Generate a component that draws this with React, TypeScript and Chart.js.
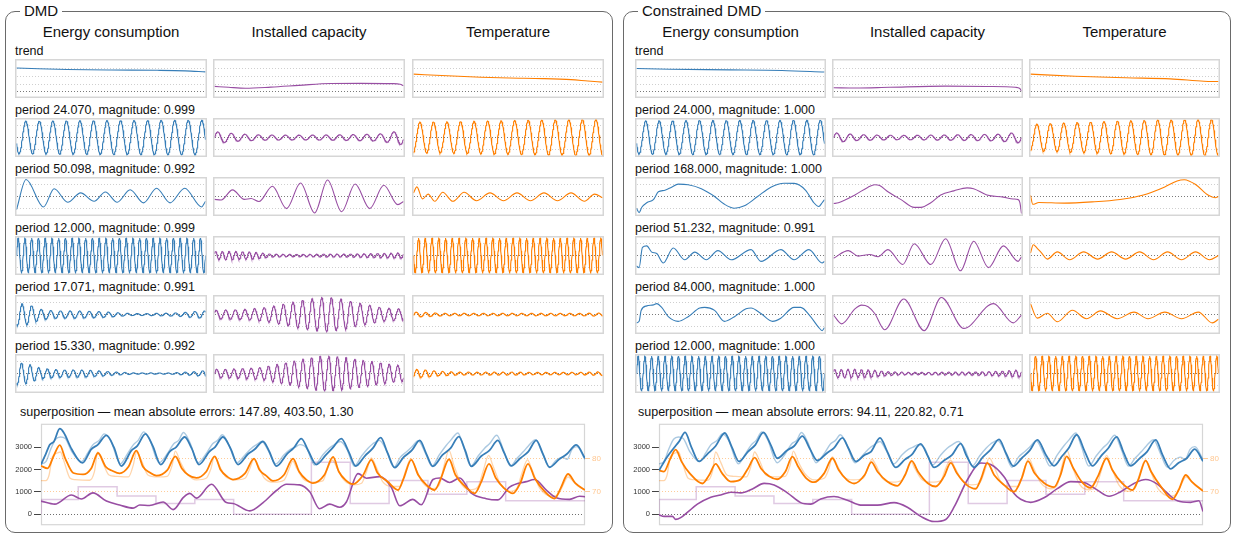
import React, { useEffect, useRef } from "react";
import { Chart, registerables } from "chart.js";

Chart.register(...registerables);

type Pt = [number, number];

const HOURS = 336;
const FONT = '"Liberation Sans", Arial, Helvetica, sans-serif';
const BLUE = "#377eb8";
const PURPLE = "#984ea3";
const ORANGE = "#ff7f00";
const SERIES_COLORS = [BLUE, PURPLE, ORANGE];

const variables = ["Energy consumption", "Installed capacity", "Temperature"];

// eigenvalues of the displayed modes
const dmdPeriods = [24.07, 50.098, 12.0, 17.071, 15.33];
const dmdMagnitudes = [0.999, 0.992, 0.999, 0.991, 0.992];
const cdmdPeriods = [24.0, 168.0, 51.232, 84.0, 12.0];
const cdmdMagnitudes = [1.0, 1.0, 0.991, 1.0, 1.0];
const dmdErrors = [147.89, 403.5, 1.3];
const cdmdErrors = [94.11, 220.82, 0.71];

// mini chart scales
const modeRange = [-1.5, 1.5];
const modeGrid = [-1, 0, 1];
const trendRange = [-0.6, 4.1];
const trendGrid = [0, 1, 2, 3];

// superposition axes
const energyRange = [-490, 4040];
const energyTicks = [0, 1000, 2000, 3000];
const tempRange = [59.7, 90.6];
const tempTicks = [70, 80];

// ---------- DMD: trend ----------
const dmdTrendEnergy: Pt[] = [[0, 3.12], [40, 3.02], [90, 2.93], [168, 2.86], [250, 2.82], [300, 2.75], [336, 2.62]];
const dmdTrendCapacity: Pt[] = [[0, 0.72], [25, 0.6], [55, 0.48], [100, 0.62], [150, 0.85], [206, 1.1], [260, 1.12], [316, 1.08], [330, 1.0], [336, 0.8]];
const dmdTrendTemperature: Pt[] = [[0, 2.32], [60, 2.1], [120, 1.92], [170, 1.82], [230, 1.74], [280, 1.6], [310, 1.42], [336, 1.28]];

// ---------- DMD: oscillating modes (first peak hour + amplitude envelope) ----------
const dmdP24Energy = { peak: 16.6, env: [1.35, 1.38, 1.4, 1.42, 1.43, 1.44, 1.45] };
const dmdP24Capacity = { peak: 6, env: [0.5, 0.3, 0.22, 0.2, 0.2, 0.22, 0.25, 0.3, 0.6] };
const dmdP24Temperature = { peak: 11.5, env: [1.28, 1.3, 1.35, 1.4, 1.45, 1.48, 1.5] };

const dmdP50Energy: Pt[] = [[0, -1.1], [17, 1.42], [48, -0.87], [67, 0.64], [91, -0.48], [114, 0.3], [138, -0.4], [158, 0.38], [179, -0.48], [202, 0.56], [226, -0.53], [249, 0.69], [273, -0.53], [299, 0.69], [329, -0.87], [336, -0.4]];
const dmdP50Capacity: Pt[] = [[0, -0.24], [12, -0.29], [32, 0.55], [53, -0.24], [65, -0.17], [79, -0.42], [103, 0.86], [128, -1.01], [153, 1.12], [178, -1.37], [201, 1.37], [226, -1.27], [250, 1.04], [276, -1.01], [301, 0.94], [326, -0.68], [336, -0.42]];
const dmdP50Temperature: Pt[] = [[0, 0.3], [6, 0.8], [16, -0.2], [26, 0.2], [38, -0.4], [52, 0.35], [70, -0.4], [90, 0.35], [112, -0.35], [136, 0.3], [160, -0.35], [184, 0.3], [208, -0.35], [232, 0.3], [256, -0.35], [280, 0.3], [304, -0.4], [322, 0.2], [336, -0.1]];

const dmdP12Energy = { peak: 3, env: [1.45, 1.45] };
const dmdP12Capacity = { peak: 2, env: [0.35, 0.35, 0.3, 0.12, 0.1, 0.1, 0.12, 0.12, 0.15, 0.18, 0.22] };
const dmdP12Temperature = { peak: 9, env: [1.45, 1.45] };

const dmdP17Energy = { peak: 10, env: [0.95, 0.85, 0.45, 0.32, 0.3, 0.3, 0.28, 0.25, 0.2, 0.12, 0.08, 0.08, 0.1, 0.12, 0.15, 0.25, 0.3] };
const dmdP17Capacity = { peak: 3, env: [0.35, 0.38, 0.4, 0.45, 0.55, 0.7, 0.9, 1.1, 1.3, 1.42, 1.4, 1.25, 1.0, 0.8, 0.6, 0.5, 0.45] };
const dmdP17Temperature = { peak: 5, env: [0.2, 0.18, 0.12, 0.1, 0.1, 0.1, 0.1, 0.1, 0.1, 0.1, 0.1, 0.1, 0.1, 0.1, 0.1, 0.12, 0.12] };

const dmdP15Energy = { peak: 9, env: [0.95, 0.8, 0.45, 0.35, 0.3, 0.3, 0.28, 0.22, 0.15, 0.1, 0.05, 0.05, 0.05, 0.05, 0.1, 0.15, 0.25] };
const dmdP15Capacity = { peak: 4, env: [0.35, 0.35, 0.4, 0.45, 0.5, 0.7, 0.9, 1.1, 1.3, 1.45, 1.45, 1.35, 1.2, 1.05, 0.9, 0.75, 0.65] };
const dmdP15Temperature = { peak: 6, env: [0.35, 0.3, 0.2, 0.15, 0.12, 0.12, 0.12, 0.12, 0.12, 0.12, 0.1, 0.1, 0.1, 0.1, 0.1, 0.12, 0.15] };

// ---------- Constrained DMD: trend ----------
const cdmdTrendEnergy: Pt[] = [[0, 3.05], [60, 2.95], [168, 2.88], [260, 2.8], [336, 2.6]];
const cdmdTrendCapacity: Pt[] = [[0, 0.55], [40, 0.5], [100, 0.6], [200, 0.75], [280, 0.7], [325, 0.6], [333, 0.45], [336, 0.1]];
const cdmdTrendTemperature: Pt[] = [[0, 2.32], [80, 2.05], [170, 1.85], [250, 1.7], [310, 1.4], [336, 1.35]];

// ---------- Constrained DMD: modes ----------
const cdmdP24Energy = { peak: 16.6, env: [1.38, 1.4, 1.42, 1.42, 1.43, 1.44, 1.45] };
const cdmdP24Capacity = { peak: 6, env: [0.4, 0.25, 0.2, 0.18, 0.2, 0.22, 0.25, 0.28, 0.45] };
const cdmdP24Temperature = { peak: 11.5, env: [1.1, 1.2, 1.3, 1.38, 1.45, 1.48, 1.5] };

const cdmdP168Energy: Pt[] = [[0, -0.98], [4.7, -1.34], [9.5, -0.9], [18.3, -0.52], [30.2, -0.26], [39, 0.39], [50.9, 0.52], [62.7, 0.78], [74.5, 1.03], [92.3, 0.98], [115.9, 0.65], [139.6, 0], [157.3, -0.65], [175.1, -0.98], [192.8, -0.78], [216.5, 0], [240.1, 0.78], [263.8, 1.11], [281.6, 1.09], [302.3, 0.52], [317, -0.52], [325.9, -0.83], [331.8, -0.52], [336, -0.26]];
const cdmdP168Capacity: Pt[] = [[0, -0.59], [8.8, -0.52], [38.3, 0.13], [61.9, 0.78], [73.7, 0.98], [82.5, 0.91], [97.3, 0.39], [120.8, -0.26], [144.4, -0.91], [156.2, -0.91], [173.9, -0.52], [191.6, 0.13], [215.2, 0.47], [238.7, 0.72], [250.5, 0.65], [274.1, 0.13], [303.6, -0.05], [321.3, -0.21], [330.1, -0.26], [333.1, -0.52], [336, -1.42]];
const cdmdP168Temperature: Pt[] = [[0, 0.1], [4, -0.65], [15, -0.5], [60, -0.55], [110, -0.45], [160, -0.25], [200, 0.1], [240, 0.8], [262, 1.3], [275, 1.4], [295, 1.0], [318, 0.1], [330, -0.1], [336, 0]];

const cdmdP51Energy: Pt[] = [[0, -0.88], [4.7, -1.01], [10.6, 0.67], [18.3, 0.8], [27.2, 0.28], [36.1, 0.16], [47.9, -0.62], [65.7, 0.62], [86.4, -0.36], [104.1, 0.28], [124.8, -0.36], [145.5, 0.41], [169.2, -0.36], [204.7, 0.49], [222.4, -0.49], [257.9, 0.49], [281.6, -0.36], [308.2, 0.49], [331.8, -0.62], [336, -0.49]];
const cdmdP51Capacity: Pt[] = [[0, -0.23], [26.5, 0.41], [44.2, -0.05], [64.8, 0.08], [79.6, -0.1], [97.3, 0.49], [123.8, -0.75], [144.4, 0.98], [173.9, -0.75], [200.4, 1.4], [227, -1.27], [250.5, 1.19], [277.1, -1.01], [303.6, 0.8], [330.1, -0.49], [336, -0.1]];
const cdmdP51Temperature: Pt[] = [[0, 0.2], [5, 0.9], [12, 0.6], [20, 0.2], [30, -0.3], [48, 0.3], [70, -0.35], [95, 0.3], [120, -0.3], [145, 0.3], [170, -0.3], [195, 0.3], [220, -0.35], [245, 0.3], [270, -0.35], [295, 0.3], [320, -0.35], [336, 0]];

const cdmdP84Energy: Pt[] = [[0, -0.7], [4.7, -0.57], [8.3, 0.34], [18.3, 0.72], [30.2, 0.8], [36.1, 0.91], [45, 0.59], [56.8, -0.18], [74.5, -0.57], [92.3, -0.18], [113, 0.54], [121.9, 0.59], [139.6, 0.34], [157.3, -0.57], [175.1, -0.18], [195.8, 0.47], [204.7, 0.54], [222.4, 0.08], [243.1, -0.57], [257.9, -0.31], [281.6, 0.59], [293.4, 0.59], [311.1, -0.18], [325.9, -1.09], [331.8, -1.34], [336, -1.09]];
const cdmdP84Capacity: Pt[] = [[0, -0.05], [14.7, -0.78], [38.3, 0.47], [50.1, 0.78], [61.9, 0.65], [73.7, 0.08], [91.4, -1.27], [125.6, 1.29], [162.1, -1.34], [192.8, 1.42], [232.9, -1.16], [285.9, 0.91], [321.3, -0.7], [336, -0.05]];
const cdmdP84Temperature: Pt[] = [[0, 0.9], [12, -0.3], [30, 0.1], [48, -0.6], [75, 0.35], [100, -0.35], [125, 0.3], [155, -0.35], [185, 0.2], [210, -0.35], [240, 0.2], [270, -0.35], [300, 0.2], [325, -0.7], [336, -0.4]];

const cdmdP12Energy = { peak: 3, env: [1.45, 1.45] };
const cdmdP12Capacity = { peak: 2, env: [0.35, 0.35, 0.3, 0.15, 0.1, 0.1, 0.12, 0.12, 0.15, 0.2, 0.3] };
const cdmdP12Temperature = { peak: 9, env: [1.45, 1.45] };

// ---------- observed series (shared by both reconstructions) ----------
const observedEnergy: Pt[] = [
  [0, 2250], [3, 2350], [6, 2900], [9, 3350], [12, 3450], [15, 3380], [19, 2800], [25, 2350],
  [29, 2750], [32, 3100], [36, 3300], [39, 3590], [43, 3300], [49, 2250],
  [53, 2650], [57, 3100], [60, 3300], [63.5, 3680], [67, 3350], [73, 2300],
  [78, 2700], [82, 3150], [85, 3300], [88, 3650], [92, 3200], [97, 2300],
  [102, 2700], [106, 3150], [109, 3300], [112, 3550], [116, 3100], [121, 2300],
  [126, 2650], [130, 2950], [133, 3100], [136.5, 3250], [140, 2900], [145, 2250],
  [150, 2650], [154, 2900], [157, 3000], [160, 3110], [164, 2950], [169, 2200],
  [174, 2650], [178, 2950], [181, 3100], [185, 3250], [189, 2900], [193.5, 2150],
  [198, 2600], [202, 2950], [205, 3150], [209, 3300], [213, 2900], [218, 2100],
  [222, 2550], [226, 2800], [229, 3000], [233, 3280], [237, 2800], [241.5, 2150],
  [246, 2650], [250, 3050], [253, 3300], [257.5, 3630], [261, 3000], [265.5, 2150],
  [270, 2600], [274, 2950], [277, 3150], [281.5, 3530], [285.5, 2900], [290, 2150],
  [294, 2500], [298, 2800], [301, 3050], [305.5, 3330], [309.5, 2750], [314, 2100],
  [318, 2400], [322, 2550], [325, 2450], [328, 2900], [331, 3020], [336, 2450],
];
const observedTemperature: Pt[] = [
  [0, 73.3], [3, 73.3], [5, 75], [7, 80.5], [10, 81.7], [12, 82], [14, 79.5], [18, 74], [21, 73.6], [30, 73.4],
  [33, 76], [35, 82], [38, 79], [42, 75], [46, 74.6], [54, 74.4], [57, 78], [59, 82], [62, 79.5], [66, 75],
  [72, 74.4], [78, 74.6], [81, 78], [83, 82.3], [86, 79], [90, 75.5], [96, 73.5], [102, 74], [105, 77],
  [107, 80.5], [110, 78], [114, 74.5], [120, 73.5], [126, 74], [129, 77], [131.5, 79.8], [134, 78], [138, 74],
  [144, 72.8], [150, 73.4], [153, 76.5], [155.5, 79.2], [158, 77], [162, 73.8], [168, 72.8], [174, 73.2],
  [177, 77], [180, 79.5], [183, 77], [187, 73.5], [193, 72], [198, 72.5], [201, 76], [204, 80.2], [207, 77.5],
  [211, 73], [217, 71.5], [222, 71.5], [225, 76], [228.5, 80], [231, 77.5], [236, 72.5], [242, 70.8], [246, 72],
  [249, 78], [252, 82.5], [255, 78], [260, 72], [266, 70.5], [270, 71.5], [273, 76], [276.5, 81], [279, 78],
  [284, 72], [290, 70], [294, 71], [297, 75.5], [300.5, 79.6], [303, 77], [308, 71], [316, 68.5], [320, 69.5],
  [323, 72.5], [325.5, 74.4], [328, 73.5], [332, 71.5], [336, 70.5],
];
// daily installed capacity and the hours at which each value starts
const capacityStartHours = [0, 23, 47, 71, 95, 119, 143, 167, 191, 215, 239, 263, 287, 311, 336];
const capacityDaily = [0, 655, 1230, 820, 480, 655, 0, 0, 2320, 480, 1510, 898, 1456, 600, 600];

// ---------- DMD superposition ----------
const dmdSumEnergy: Pt[] = [
  [0, 2220], [3, 2700], [5.4, 3100], [8, 3250], [11.6, 3820], [14, 3650], [19, 2900], [25.6, 2290],
  [31, 2900], [35, 3100], [40.4, 3520], [45, 3000], [49.6, 2150],
  [55.8, 2840], [59.5, 3050], [64.5, 3590], [69, 3050], [74, 2220],
  [79.5, 2800], [83.5, 3000], [88.8, 3450], [93, 2950], [97.6, 2220],
  [104, 2800], [107.5, 3000], [112.4, 3450], [117, 2950], [121.7, 2220],
  [128, 2700], [132, 2900], [137.1, 3250], [141, 2800], [145.4, 2150],
  [152, 2700], [156, 2950], [160.8, 3380], [165, 2850], [170, 2220],
  [176, 2650], [180, 2950], [185.5, 3380], [190, 2800], [194.4, 2150],
  [200, 2600], [205, 2950], [209.8, 3420], [214, 2750], [218.5, 2080],
  [224, 2550], [229, 2850], [233.9, 3300], [238, 2700], [242, 2140],
  [248, 2650], [253, 2950], [258.1, 3470], [262, 2850], [265.8, 2140],
  [272, 2600], [277, 2850], [282.2, 3300], [286, 2750], [290.5, 2160],
  [296, 2500], [301, 2800], [305.9, 3300], [310, 2700], [314.1, 2100],
  [320, 2450], [325, 2700], [330.6, 3100], [336, 2500],
];
const dmdSumTemperature: Pt[] = [
  [0, 77.8], [4, 77], [8, 81], [11.6, 84.1], [15, 80], [20, 75.6], [26, 75.2], [31, 77], [35.2, 81.7], [40, 77.5],
  [44, 76.3], [48.6, 75.5], [54, 77.5], [58.9, 82.4], [63, 77.5], [67, 75.8], [71.3, 74.8], [78, 76.5], [83, 80.7],
  [87, 77], [91, 75], [96, 74.1], [102, 76], [107.3, 80.7], [111, 76.5], [115, 74.5], [118.6, 73.6], [126, 75.5],
  [131.6, 80], [135, 76.5], [139, 74.8], [143.3, 73.2], [150, 75], [155.7, 80], [159.5, 76], [164, 73.5], [168, 72.5],
  [175, 75], [180.4, 80.5], [184, 76], [188, 73.5], [192.7, 72.2], [199, 75], [204, 79.6], [208, 75.5], [214, 73],
  [220.5, 70.4], [224, 74], [228.7, 79.6], [233, 75], [238, 72], [243.1, 70.4], [247, 74], [252, 79.8], [256, 75],
  [262, 71.5], [267.8, 69.4], [272, 73], [276.7, 78.4], [281, 74], [286, 71], [291.5, 69.4], [296, 72.5], [300.8, 78.4],
  [305, 74], [311, 70], [317.2, 67.8], [321, 71], [325.5, 75.3], [330, 72.5], [336, 70.4],
];
const dmdSumCapacity: Pt[] = [
  [0, 587], [8.5, 450], [18.8, 860], [24.9, 680], [32.1, 955], [40.4, 587], [48.6, 410], [56.9, 273], [61, 410],
  [67, 390], [75.4, 545], [81.6, 205], [88, 750], [91.9, 930], [96, 720], [105.3, 1340], [114.5, 520], [118.6, 480],
  [128.9, 150], [137.2, 520], [145.4, 1060], [151.6, 1340], [159.8, 1310], [166, 1000], [172.1, 245], [178.3, 450],
  [184.5, 314], [188.6, 545], [195.8, 1815], [201, 1610], [209.2, 1680], [216.4, 1200], [221.6, 380], [229.7, 665],
  [234.9, 421], [242.1, 1551], [246.2, 1620], [252.4, 1415], [258.6, 1620], [265.8, 939], [275, 694], [282.2, 640],
  [289.4, 1212], [299.7, 1456], [304.9, 1551], [312.1, 1075], [318.3, 735], [326.5, 665], [332.7, 803], [336, 780],
];

// ---------- Constrained DMD superposition ----------
const cdmdSumEnergy: Pt[] = [
  [0, 1950], [5, 2560], [9.3, 2970], [12.4, 3250], [16.1, 3656], [20, 3000], [24.7, 2360],
  [30, 2700], [35, 3050], [40.6, 3630], [45, 3000], [49.4, 2360],
  [55, 2800], [59.5, 3100], [64.5, 3656], [69, 3100], [73.1, 2500],
  [79, 2850], [83.5, 3050], [88.6, 3490], [93, 2950], [97.8, 2400],
  [104, 2750], [108, 2950], [113.3, 3410], [117, 2950], [121.5, 2360],
  [127, 2650], [131, 2800], [136.5, 3410], [141, 2800], [146.2, 2090],
  [152, 2450], [156, 2650], [161.6, 3140], [166, 2600], [169.9, 2090],
  [176, 2400], [181, 2650], [186.3, 3150], [190, 2600], [194.6, 2090],
  [200, 2550], [205, 2900], [210, 3340], [214.5, 2700], [218.9, 2150],
  [224, 2500], [229, 2850], [233.7, 3320], [239, 2650], [244, 2160],
  [249, 2600], [253, 2950], [258, 3550], [263, 2800], [267.7, 2160],
  [273, 2600], [277.5, 2950], [282.7, 3457], [287, 2750], [291.3, 2160],
  [297, 2500], [301.5, 2800], [306.8, 3320], [311, 2650], [316, 2030],
  [321, 2300], [326, 2500], [330.9, 2910], [336, 2370],
];
const cdmdSumTemperature: Pt[] = [
  [0, 76.4], [3, 76], [7, 80], [10.3, 82.7], [14, 79], [19, 75.5], [26.8, 72.4], [31, 75], [35, 78.4], [39, 75.5],
  [44.3, 73], [50, 73.5], [55, 77], [59.1, 80.3], [63, 77], [68, 74.6], [73, 73.7], [78, 76], [82.4, 80.6], [86, 77.5],
  [91, 74], [95.8, 72.8], [102, 75.5], [107.1, 80.1], [111, 76.5], [116, 73.5], [120.5, 72.4], [127, 75], [131.2, 78.9],
  [135, 76], [141, 73], [147.2, 71.7], [152, 75], [156.1, 79.3], [160, 76], [166, 72.5], [170.9, 71.5], [176, 74.5],
  [180.2, 78.7], [184, 75.5], [190, 72], [195.6, 70.8], [199, 74], [202.8, 78.7], [207, 75], [213, 72], [219.3, 69.9],
  [224, 74], [227.9, 79.2], [232, 75.5], [238, 72.5], [244, 71.3], [248, 75], [251.8, 80.7], [256, 77], [261, 73],
  [266.6, 71.1], [271, 74.5], [276.5, 80.1], [280, 76.5], [286, 72.5], [292.4, 70.4], [296, 73.5], [300.6, 79.4],
  [304, 76], [310, 71.5], [317.1, 67.6], [321, 70.5], [325.3, 75], [329, 73], [336, 70.1],
];
const cdmdSumCapacity: Pt[] = [
  [0, -27], [3.1, -95], [8.3, -95], [10.3, -232], [13.4, -150], [17.5, 82], [23.7, 450], [32, 764], [38.1, 860],
  [44.3, 982], [50.5, 955], [57.7, 1132], [64.9, 1378], [71.1, 1310], [79.3, 955], [87.5, 518], [93.7, 450],
  [99.9, 682], [108.1, 791], [116.3, 627], [124.6, 409], [134.9, 409], [145.2, 518], [153.4, 314], [161.6, -95],
  [169.9, -327], [177.1, -232], [182.2, 314], [190.5, 1542], [198.7, 2292], [204.9, 2224], [213.1, 1678],
  [219.3, 928], [223.4, 667], [229.6, 530], [237.8, 735], [246, 1143], [254.3, 1456], [262.5, 1415], [270.8, 1075],
  [278, 803], [285.2, 1007], [293.4, 1374], [300.6, 1551], [307.8, 1347], [314, 939], [320.2, 599], [328.4, 530],
  [333.5, 599], [336, 122],
];

// ---------- helpers ----------
type Wave = { peak: number; env: number[] };

function modeWave(period: number, w: Wave): Pt[] {
  const out: Pt[] = [];
  for (let t = 0; t <= HOURS; t += 0.5) {
    const u = (t / HOURS) * (w.env.length - 1);
    const i = Math.min(w.env.length - 2, Math.floor(u));
    const a = w.env[i] + (w.env[i + 1] - w.env[i]) * (u - i);
    out.push([t, a * Math.cos((2 * Math.PI * (t - w.peak)) / period)]);
  }
  return out;
}

function stepPoints(hours: number[], values: number[]): Pt[] {
  return hours.map((h, i) => [h, values[i]] as Pt);
}

const toXY = (pts: Pt[]) => pts.map(([x, y]) => ({ x, y }));

const framePlugin = {
  id: "frame",
  beforeDatasetsDraw(chart: any, _args: any, opts: any) {
    const { ctx } = chart;
    const a = opts.area ? chart.chartArea : null;
    ctx.save();
    ctx.strokeStyle = "#d6d6d6";
    ctx.lineWidth = opts.width || 1.5;
    if (a) {
      ctx.strokeRect(a.left + 0.5, a.top + 0.5, a.right - a.left - 1, a.bottom - a.top - 1);
    } else {
      const lw = ctx.lineWidth;
      ctx.strokeRect(lw / 2, lw / 2, chart.width - lw, chart.height - lw);
    }
    ctx.restore();
  },
};

type MiniProps = {
  left: number;
  top: number;
  width: number;
  height: number;
  color: string;
  points: Pt[];
  smooth: boolean;
  trend: boolean;
};

function MiniChart({ left, top, width, height, color, points, smooth, trend }: MiniProps) {
  const ref = useRef<HTMLCanvasElement>(null);
  useEffect(() => {
    const range = trend ? trendRange : modeRange;
    const grid = trend ? trendGrid : modeGrid;
    const chart = new Chart(ref.current as HTMLCanvasElement, {
      type: "line",
      data: {
        datasets: [
          {
            data: toXY(points) as any,
            borderColor: color,
            borderWidth: 1.1,
            pointRadius: 0,
            fill: false,
            tension: 0,
            cubicInterpolationMode: smooth ? "monotone" : "default",
          },
        ],
      },
      options: {
        animation: false,
        responsive: false,
        events: [],
        layout: { padding: 1.5 },
        plugins: { legend: { display: false }, tooltip: { enabled: false }, frame: {} } as any,
        scales: {
          x: { type: "linear", min: 0, max: HOURS, display: false },
          y: {
            type: "linear",
            min: range[0],
            max: range[1],
            afterBuildTicks: (s: any) => {
              s.ticks = grid.map((v) => ({ value: v }));
            },
            ticks: { display: false },
            grid: {
              drawTicks: false,
              lineWidth: 1,
              color: (c: any) => (c.tick && c.tick.value === 0 ? "#7a7a7a" : "#cfcfcf"),
            },
            border: { display: false, dash: [1, 2] },
          },
        },
      },
      plugins: [framePlugin],
    });
    return () => chart.destroy();
  }, []);
  return (
    <canvas
      ref={ref}
      width={width}
      height={height}
      style={{ position: "absolute", left, top, width, height }}
    />
  );
}

type SumProps = {
  left: number;
  energy: Pt[];
  temperature: Pt[];
  capacity: Pt[];
};

function SuperpositionChart({ left, energy, temperature, capacity }: SumProps) {
  const ref = useRef<HTMLCanvasElement>(null);
  useEffect(() => {
    const chart = new Chart(ref.current as HTMLCanvasElement, {
      type: "line",
      data: {
        datasets: [
          { data: toXY(energy) as any, yAxisID: "y", borderColor: BLUE, borderWidth: 1.8, pointRadius: 0, cubicInterpolationMode: "monotone" },
          { data: toXY(temperature) as any, yAxisID: "y2", borderColor: ORANGE, borderWidth: 1.8, pointRadius: 0, cubicInterpolationMode: "monotone" },
          { data: toXY(capacity) as any, yAxisID: "y", borderColor: PURPLE, borderWidth: 1.6, pointRadius: 0, cubicInterpolationMode: "monotone" },
          { data: toXY(observedEnergy) as any, yAxisID: "y", borderColor: "rgba(55,126,184,0.42)", borderWidth: 1.4, pointRadius: 0, cubicInterpolationMode: "monotone" },
          { data: toXY(observedTemperature) as any, yAxisID: "y2", borderColor: "rgba(255,127,0,0.33)", borderWidth: 1.3, pointRadius: 0, cubicInterpolationMode: "monotone" },
          { data: toXY(stepPoints(capacityStartHours, capacityDaily)) as any, yAxisID: "y", borderColor: "rgba(152,78,163,0.3)", borderWidth: 1.5, pointRadius: 0, stepped: "after" },
        ],
      },
      options: {
        animation: false,
        responsive: false,
        events: [],
        layout: { padding: { top: 2, bottom: 2, left: 0, right: 0 } },
        plugins: { legend: { display: false }, tooltip: { enabled: false }, frame: { area: true, width: 1.2 } } as any,
        scales: {
          x: { type: "linear", min: 0, max: HOURS, display: false },
          y: {
            type: "linear",
            position: "left",
            min: energyRange[0],
            max: energyRange[1],
            afterBuildTicks: (s: any) => {
              s.ticks = energyTicks.map((v) => ({ value: v }));
            },
            afterFit: (s: any) => {
              s.width = 33;
            },
            ticks: {
              font: { family: FONT, size: 7.5 },
              color: "#333",
              padding: 2,
              callback: (v: any) => String(v),
            },
            grid: {
              lineWidth: 1,
              color: (c: any) => (c.tick && c.tick.value === 0 ? "#6e6e6e" : "rgba(0,0,0,0)"),
              tickColor: "#444",
              tickLength: 7,
            },
            border: { display: false, dash: [1, 2] },
          },
          y2: {
            type: "linear",
            position: "right",
            min: tempRange[0],
            max: tempRange[1],
            afterBuildTicks: (s: any) => {
              s.ticks = tempTicks.map((v) => ({ value: v }));
            },
            afterFit: (s: any) => {
              s.width = 25;
            },
            ticks: {
              font: { family: FONT, size: 8 },
              color: "rgba(255,127,0,0.45)",
              padding: 2,
              callback: (v: any) => String(v),
            },
            grid: {
              lineWidth: 1,
              color: "rgba(255,127,0,0.4)",
              tickColor: "rgba(255,127,0,0.4)",
              tickLength: 5,
            },
            border: { display: false, dash: [1, 2] },
          },
        },
      },
      plugins: [framePlugin],
    });
    return () => chart.destroy();
  }, []);
  return (
    <canvas
      ref={ref}
      width={602}
      height={115}
      style={{ position: "absolute", left, top: 417, width: 602, height: 115 }}
    />
  );
}

type PanelDef = {
  title: string;
  boxLeft: number;
  colLefts: number[];
  colWidth: number;
  labels: string[];
  rows: Pt[][][];
  smooth: boolean[];
  sumLabel: string;
  sum: { energy: Pt[]; temperature: Pt[]; capacity: Pt[] };
};

const ROW_TOPS = [59, 118, 177, 236, 295, 354];
const ROW_H = 39;

function modeLabel(p: number, m: number) {
  return `period ${p.toFixed(3)}, magnitude: ${m.toFixed(3)}`;
}

function buildPanels(): PanelDef[] {
  const dmdRows: Pt[][][] = [
    [dmdTrendEnergy, dmdTrendCapacity, dmdTrendTemperature],
    [modeWave(dmdPeriods[0], dmdP24Energy), modeWave(dmdPeriods[0], dmdP24Capacity), modeWave(dmdPeriods[0], dmdP24Temperature)],
    [dmdP50Energy, dmdP50Capacity, dmdP50Temperature],
    [modeWave(dmdPeriods[2], dmdP12Energy), modeWave(dmdPeriods[2], dmdP12Capacity), modeWave(dmdPeriods[2], dmdP12Temperature)],
    [modeWave(dmdPeriods[3], dmdP17Energy), modeWave(dmdPeriods[3], dmdP17Capacity), modeWave(dmdPeriods[3], dmdP17Temperature)],
    [modeWave(dmdPeriods[4], dmdP15Energy), modeWave(dmdPeriods[4], dmdP15Capacity), modeWave(dmdPeriods[4], dmdP15Temperature)],
  ];
  const cdmdRows: Pt[][][] = [
    [cdmdTrendEnergy, cdmdTrendCapacity, cdmdTrendTemperature],
    [modeWave(cdmdPeriods[0], cdmdP24Energy), modeWave(cdmdPeriods[0], cdmdP24Capacity), modeWave(cdmdPeriods[0], cdmdP24Temperature)],
    [cdmdP168Energy, cdmdP168Capacity, cdmdP168Temperature],
    [cdmdP51Energy, cdmdP51Capacity, cdmdP51Temperature],
    [cdmdP84Energy, cdmdP84Capacity, cdmdP84Temperature],
    [modeWave(cdmdPeriods[4], cdmdP12Energy), modeWave(cdmdPeriods[4], cdmdP12Capacity), modeWave(cdmdPeriods[4], cdmdP12Temperature)],
  ];
  return [
    {
      title: "DMD",
      boxLeft: 5,
      colLefts: [15, 213, 412],
      colWidth: 192,
      labels: ["trend", ...dmdPeriods.map((p, i) => modeLabel(p, dmdMagnitudes[i]))],
      rows: dmdRows,
      smooth: [true, false, true, false, false, false],
      sumLabel: `superposition \u2014 mean absolute errors: ${dmdErrors.map((e) => e.toFixed(2)).join(", ")}`,
      sum: { energy: dmdSumEnergy, temperature: dmdSumTemperature, capacity: dmdSumCapacity },
    },
    {
      title: "Constrained DMD",
      boxLeft: 623,
      colLefts: [635, 832, 1029],
      colWidth: 191,
      labels: ["trend", ...cdmdPeriods.map((p, i) => modeLabel(p, cdmdMagnitudes[i]))],
      rows: cdmdRows,
      smooth: [true, false, true, true, true, false],
      sumLabel: `superposition \u2014 mean absolute errors: ${cdmdErrors.map((e) => e.toFixed(2)).join(", ")}`,
      sum: { energy: cdmdSumEnergy, temperature: cdmdSumTemperature, capacity: cdmdSumCapacity },
    },
  ];
}

function Panel({ def }: { def: PanelDef }) {
  const textLeft = def.colLefts[0];
  return (
    <>
      <div
        style={{
          position: "absolute",
          left: def.boxLeft,
          top: 11,
          width: 608,
          height: 522,
          border: "1.5px solid #6a6a6a",
          borderRadius: 10,
          boxSizing: "border-box",
        }}
      />
      <div
        style={{
          position: "absolute",
          left: def.boxLeft + 15,
          top: 2,
          padding: "0 4px",
          background: "#fff",
          font: `15px ${FONT}`,
          lineHeight: "18px",
          color: "#111",
          whiteSpace: "nowrap",
        }}
      >
        {def.title}
      </div>
      {variables.map((v, c) => (
        <div
          key={v}
          style={{
            position: "absolute",
            left: def.colLefts[c],
            top: 23,
            width: def.colWidth,
            textAlign: "center",
            font: `15px ${FONT}`,
            lineHeight: "18px",
            color: "#111",
            whiteSpace: "nowrap",
          }}
        >
          {v}
        </div>
      ))}
      {def.labels.map((l, r) => (
        <div
          key={l}
          style={{
            position: "absolute",
            left: textLeft,
            top: ROW_TOPS[r] - 15,
            font: `12.5px ${FONT}`,
            lineHeight: "14px",
            color: "#111",
            whiteSpace: "nowrap",
          }}
        >
          {l}
        </div>
      ))}
      {def.rows.map((row, r) =>
        row.map((pts, c) => (
          <MiniChart
            key={`${r}-${c}`}
            left={def.colLefts[c]}
            top={ROW_TOPS[r]}
            width={def.colWidth}
            height={ROW_H}
            color={SERIES_COLORS[c]}
            points={pts}
            smooth={def.smooth[r]}
            trend={r === 0}
          />
        ))
      )}
      <div
        style={{
          position: "absolute",
          left: textLeft + 5 - (def.boxLeft === 5 ? 0 : 2),
          top: 405,
          font: `12.5px ${FONT}`,
          lineHeight: "14px",
          color: "#111",
          whiteSpace: "nowrap",
        }}
      >
        {def.sumLabel}
      </div>
      <SuperpositionChart left={def.boxLeft + 3} energy={def.sum.energy} temperature={def.sum.temperature} capacity={def.sum.capacity} />
    </>
  );
}

export default function App() {
  const panels = buildPanels();
  return (
    <div
      style={{
        position: "absolute",
        left: 0,
        top: 0,
        width: 1245,
        height: 536,
        background: "#fff",
        overflow: "hidden",
      }}
    >
      {panels.map((p) => (
        <Panel key={p.title} def={p} />
      ))}
    </div>
  );
}
